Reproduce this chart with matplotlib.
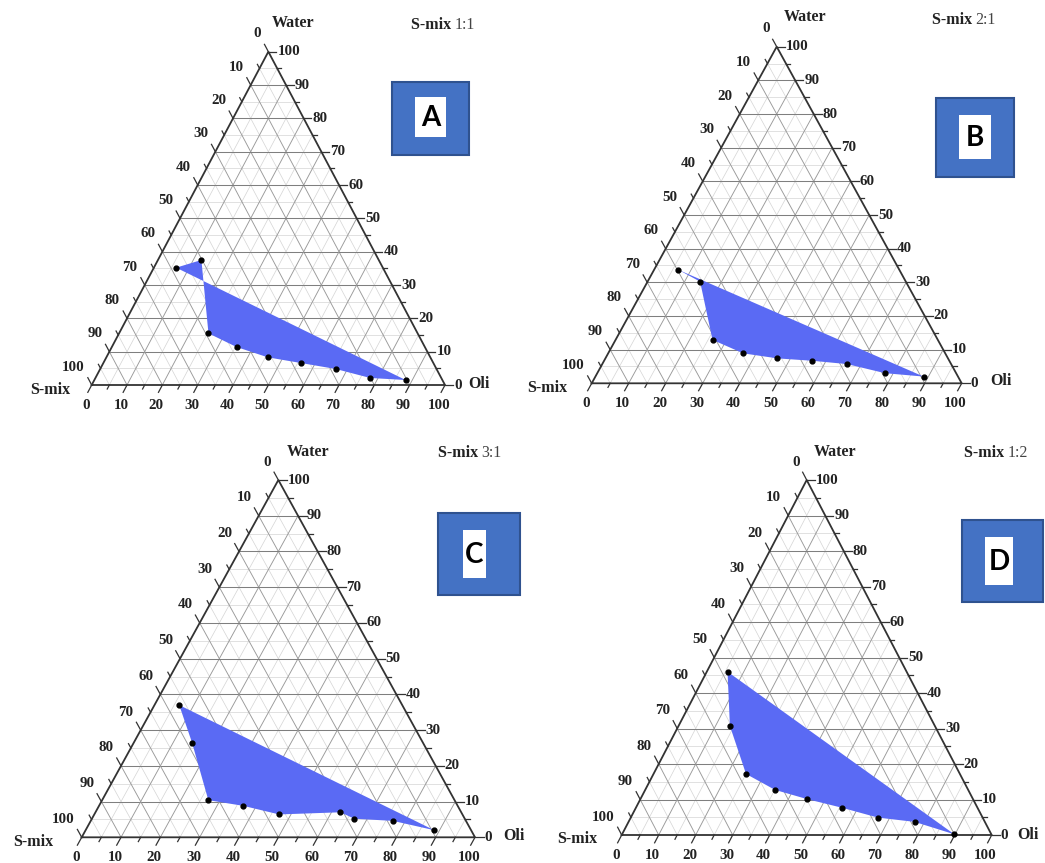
import numpy as np
import matplotlib
matplotlib.use("Agg")
import matplotlib.pyplot as plt
from matplotlib.patches import Polygon, Rectangle
from matplotlib import transforms

# ---------------- data (percent) ----------------
# Oli and Water composition of each boundary point; S-mix = 100 - Oli - Water
oli_A = [6.3, 12.3, 25.3, 35.3, 45.7, 55.9, 66.7, 77.8, 88.1]
water_A = [35.2, 37.5, 15.5, 11.4, 8.3, 6.6, 4.8, 2.1, 1.5]

oli_B = [6.6, 14.2, 26.2, 36.5, 46.5, 56.2, 66.2, 77.8, 88.7]
water_B = [33.7, 30.2, 12.9, 8.9, 7.4, 6.7, 5.7, 3.0, 2.0]

oli_C = [6.3, 14.8, 27.0, 36.7, 47.0, 62.3, 66.7, 76.8, 88.6]
water_C = [37.0, 26.5, 10.4, 8.8, 6.4, 7.0, 5.2, 4.6, 2.0]

oli_D = [5.6, 13.9, 25.0, 35.1, 45.1, 55.6, 66.8, 77.3, 89.8]
water_D = [46.0, 30.7, 17.2, 12.7, 10.1, 7.7, 4.9, 3.7, 0.2]

ratios = ["1:1", "2:1", "3:1", "1:2"]
letters = ["A", "B", "C", "D"]
tick_values = list(range(0, 101, 10))

W, H = 1045, 863
fig = plt.figure(figsize=(W / 100, H / 100), dpi=100)
fig.patch.set_facecolor("white")

SERIF = "Liberation Serif"
FILL = "#5a6af4"
BOXC = "#4472c4"
BOXE = "#2f528f"


def fx(x):
    return x / W


def fy(y):
    return 1 - y / H


# layout of each panel in pixel coordinates
layout = {
    "A": dict(tri=(91.7, 445, 385, 51.7), water=(293, 23), title=(444, 25),
              smix=(50, 390), oli=(468, 384), box=(392, 82, 469, 155), white=(415, 97, 446, 137)),
    "B": dict(tri=(591.7, 961.7, 383.3, 46.7), water=(805, 17), title=(965, 20),
              smix=(547, 388), oli=(990, 381), box=(936, 98, 1014, 177), white=(959, 115, 991, 159)),
    "C": dict(tri=(81.7, 475, 837.3, 480), water=(308, 452), title=(471, 453),
              smix=(33, 842), oli=(503, 836), box=(438, 513, 520, 595), white=(463, 530, 486, 578)),
    "D": dict(tri=(621.7, 991.7, 835, 480), water=(835, 452), title=(997, 453),
              smix=(577, 839), oli=(1017, 835), box=(962, 520, 1043, 602), white=(985, 537, 1013, 585)),
}

panel_data = {"A": (oli_A, water_A), "B": (oli_B, water_B),
              "C": (oli_C, water_C), "D": (oli_D, water_D)}


def tern(oli, water):
    oli = np.asarray(oli, float)
    water = np.asarray(water, float)
    return oli + water / 2.0, water


def draw_panel(key, ratio):
    L = layout[key]
    bx0, bx1, by, ty = L["tri"]
    ax = fig.add_axes([fx(bx0), fy(by), (bx1 - bx0) / W, (by - ty) / H])
    ax.set_xlim(0, 100)
    ax.set_ylim(0, 100)
    ax.axis("off")

    # minor grid (every 5)
    for v in range(5, 100, 10):
        kw = dict(color="#d4d4d4", lw=0.5, zorder=1)
        ax.plot([v / 2, 100 - v / 2], [v, v], **kw)
        ax.plot([v, v + (100 - v) / 2], [0, 100 - v], **kw)
        ax.plot([100 - v, (100 - v) / 2], [0, 100 - v], **kw)
    # major grid (every 10)
    for v in range(10, 100, 10):
        ax.plot([v / 2, 100 - v / 2], [v, v], color="#7f7f7f", lw=0.75, zorder=2)
        ax.plot([v, v + (100 - v) / 2], [0, 100 - v], color="#999999", lw=0.65, zorder=2)
        ax.plot([100 - v, (100 - v) / 2], [0, 100 - v], color="#999999", lw=0.65, zorder=2)

    # triangle frame
    ax.plot([0, 100, 50, 0], [0, 0, 100, 0], color="#333333", lw=1.3, zorder=5,
            clip_on=False, solid_joinstyle="miter")

    # ticks
    for v in range(0, 101, 5):
        t = 2.2 if v % 10 == 0 else 1.2
        ax.plot([v, v - 0.5 * t], [0, -t], color="#333333", lw=0.9, clip_on=False, zorder=5)
        xr = 100 - v / 2
        ax.plot([xr, xr + t], [v, v], color="#333333", lw=0.9, clip_on=False, zorder=5)
        xl, yl = (100 - v) / 2, 100 - v
        ax.plot([xl, xl - 0.5 * t], [yl, yl + t], color="#333333", lw=0.9, clip_on=False, zorder=5)

    tfont = dict(fontfamily=SERIF, fontweight="bold", fontsize=10.8, color="#222222")
    for v in tick_values:
        tr_b = transforms.offset_copy(ax.transData, fig=fig, x=-6, y=-20, units="dots")
        ax.text(v, 0, str(v), transform=tr_b, ha="center", va="center", **tfont)
        tr_r = transforms.offset_copy(ax.transData, fig=fig, x=9, y=0, units="dots")
        ax.text(100 - v / 2, v, str(v), transform=tr_r, ha="left", va="center", **tfont)
        tr_l = transforms.offset_copy(ax.transData, fig=fig, x=-7, y=18, units="dots")
        ax.text((100 - v) / 2, 100 - v, str(v), transform=tr_l, ha="right", va="center", **tfont)

    # data region
    oli, water = panel_data[key]
    xs, ys = tern(oli, water)
    ax.add_patch(Polygon(np.column_stack([xs, ys]), closed=True, facecolor=FILL,
                         edgecolor="none", zorder=3))
    ax.plot(xs, ys, "o", color="black", ms=3.5, zorder=6, clip_on=False)

    # labels
    lab = dict(fontfamily=SERIF, fontweight="bold", fontsize=11.5, color="#222222")
    fig.text(fx(L["water"][0]), fy(L["water"][1]), "Water", ha="center", va="center", **lab)
    fig.text(fx(L["smix"][0]), fy(L["smix"][1]), "S-mix", ha="center", va="center", **lab)
    fig.text(fx(L["oli"][0]), fy(L["oli"][1]), "Oli", ha="left", va="center", **lab)
    tx, tyy = L["title"]
    t1 = fig.text(fx(tx) - 0.032, fy(tyy), "S-mix ", ha="left", va="center", **lab)
    fig.canvas.draw()
    bb = t1.get_window_extent()
    fig.text(bb.x1 / W, fy(tyy), ratio, ha="left", va="center",
             fontfamily=SERIF, fontsize=11.5, color="#444444")

    # letter box
    x0, y0, x1, y1 = L["box"]
    fig.patches.append(Rectangle((fx(x0), fy(y1)), (x1 - x0) / W, (y1 - y0) / H,
                                 transform=fig.transFigure, facecolor=BOXC,
                                 edgecolor=BOXE, lw=1.5, zorder=1))
    x0, y0, x1, y1 = L["white"]
    fig.patches.append(Rectangle((fx(x0), fy(y1)), (x1 - x0) / W, (y1 - y0) / H,
                                 transform=fig.transFigure, facecolor="white",
                                 edgecolor="none", zorder=2))
    fig.text(fx((x0 + x1) / 2), fy((y0 + y1) / 2 + 1), key, ha="center", va="center",
             fontfamily="Lato", fontweight="bold", fontsize=20, color="black", zorder=3)


for key, ratio in zip(letters, ratios):
    draw_panel(key, ratio)

fig.savefig("out.png", dpi=100, facecolor="white")
